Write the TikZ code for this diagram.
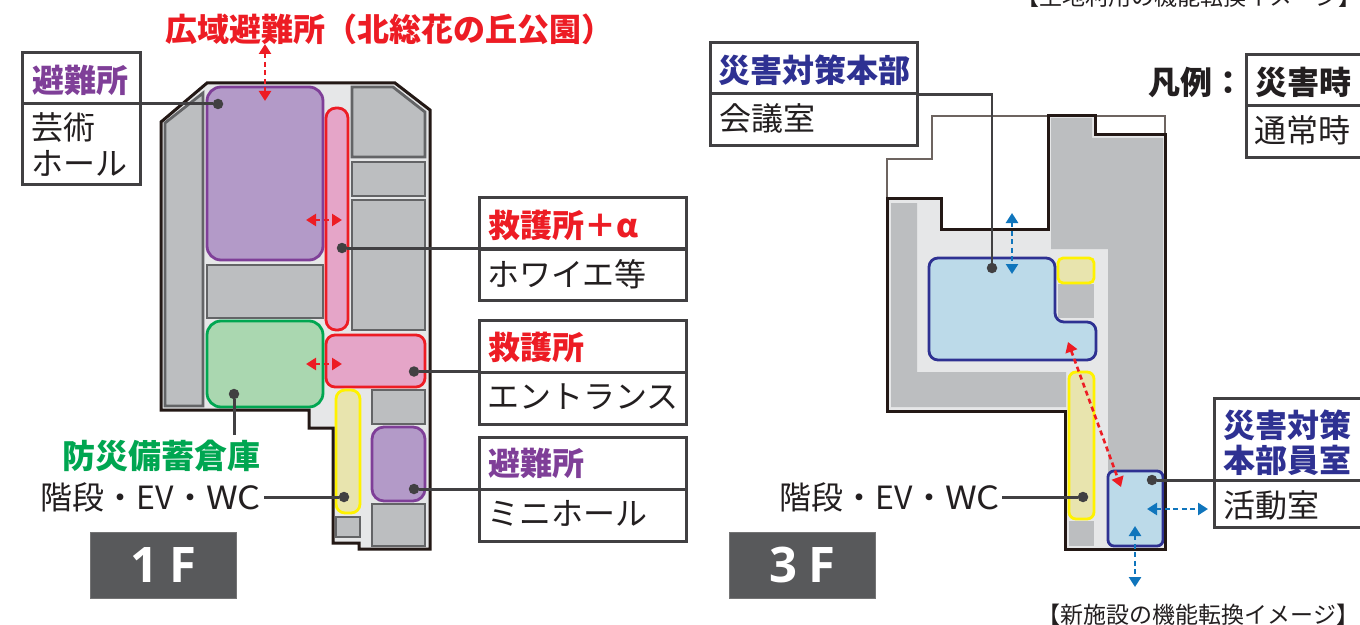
\documentclass[tikz,border=0pt]{standalone}
\usepackage{fontspec}
\setmainfont{Noto Sans CJK JP}
\newfontfamily\blockfont{Open Sans}
\usetikzlibrary{arrows.meta}
\definecolor{ink}{HTML}{231F20}
\definecolor{wall}{HTML}{231815}
\definecolor{frame}{HTML}{414042}
\definecolor{floorc}{HTML}{E6E7E8}
\definecolor{roomg}{HTML}{BCBEC0}
\definecolor{roome}{HTML}{636466}
\definecolor{purpf}{HTML}{B39AC8}
\definecolor{purpl}{HTML}{7F3F98}
\definecolor{pinkf}{HTML}{E5A5C8}
\definecolor{redl}{HTML}{ED1C24}
\definecolor{grnf}{HTML}{AAD7B0}
\definecolor{grnl}{HTML}{00A651}
\definecolor{yelf}{HTML}{E8E4AE}
\definecolor{yell}{HTML}{FFF200}
\definecolor{bluef}{HTML}{BCDAE9}
\definecolor{navy}{HTML}{2E3192}
\definecolor{arrowb}{HTML}{0F75BC}
\definecolor{blockc}{HTML}{58595B}
\definecolor{oldl}{HTML}{6D6460}
\newcommand{\fs}[1]{\fontsize{#1bp}{#1bp}\selectfont}
\tikzset{
  x=1bp,y=-1bp,
  wallline/.style={draw=wall,line width=3bp,miter limit=10},
  oldline/.style={draw=oldl,line width=2.4bp},
  graybox/.style={fill=roomg,draw=roome,line width=2.8bp},
  grayplain/.style={fill=roomg},
  purproom/.style={fill=purpf,draw=purpl,line width=2.8bp},
  pinkroom/.style={fill=pinkf,draw=redl,line width=2.8bp},
  greenroom/.style={fill=grnf,draw=grnl,line width=2.8bp},
  yelroom/.style={fill=yelf,draw=yell,line width=2.8bp},
  blueroom/.style={fill=bluef,draw=navy,line width=2.8bp},
  framebox/.style={draw=frame,line width=3bp,fill=white},
  lead/.style={draw=frame,line width=3bp},
  dot/.style={circle,fill=frame,inner sep=0pt,minimum size=10.5bp},
  txt/.style={anchor=west,inner sep=0pt,text=ink,font=\fs{32}},
  hd/.style={anchor=west,inner sep=0pt,font=\fs{32}\bfseries},
  rarrow/.style={draw=redl,line width=2.6bp,dash pattern=on 5bp off 3.5bp,{Triangle[length=10bp,width=12bp]}-{Triangle[length=10bp,width=12bp]}},
  barrow/.style={draw=arrowb,line width=2.6bp,dash pattern=on 5bp off 3.5bp,{Triangle[length=10bp,width=12bp]}-{Triangle[length=10bp,width=12bp]}},
  floorblock/.style={fill=blockc,draw=gray!70!blockc,line width=.8bp,minimum width=146bp,minimum height=66bp,inner sep=0pt,text=white,font=\blockfont\fs{49}\bfseries},
  caption/.style={inner sep=0pt,text=ink,font=\fs{23}},
}
\newcommand{\evwc}{階段・EV・\scalebox{1.13}[1]{WC}}
\begin{document}
\begin{tikzpicture}
\clip (0,0) rectangle (1360,625);
\fill[white] (0,0) rectangle (1360,625);
% ---------- 1F plan
\path[fill=floorc] (161,122) -- (207,83) -- (395,83) -- (430,110) -- (430,549) -- (359,549) -- (359,543) -- (333,543) -- (333,428) -- (309,428) -- (309,410) -- (161,410) -- cycle;
\path[graybox] (165,123) -- (203,93) -- (203,406) -- (165,406) -- cycle;
\path[graybox] (207,265) rectangle (323,318);
\path[graybox] (352,87) -- (393,87) -- (425,112) -- (425,157) -- (352,157) -- cycle;
\path[graybox] (352,162) rectangle (425,196);
\path[graybox] (352,200) rectangle (425,330);
\path[graybox] (372,390) rectangle (425,424);
\path[graybox] (372,504) rectangle (425,546);
\path[graybox] (336,517) rectangle (360,537);
\path[purproom,rounded corners=14bp] (207,87) rectangle (323,260);
\path[pinkroom,rounded corners=10bp] (326,108) rectangle (348,330);
\path[pinkroom,rounded corners=9bp] (326,335) rectangle (425,387);
\path[greenroom,rounded corners=14bp] (207,321) rectangle (323,407);
\path[yelroom,rounded corners=9bp] (336,390) rectangle (360,513);
\path[purproom,rounded corners=12bp] (372,427) rectangle (425,501);
\path[wallline] (161,122) -- (207,83) -- (395,83) -- (430,110) -- (430,549) -- (359,549) -- (359,543) -- (333,543) -- (333,428) -- (309,428) -- (309,410) -- (161,410) -- cycle;
% 1F boxes
\path[framebox] (22,53) rectangle (140,185);
\path[framebox] (479,197) rectangle (686,300);
\path[framebox] (479,320) rectangle (686,424);
\path[framebox] (479,437) rectangle (686,541);
\path[lead] (479,372) -- (686,372);
\path[lead] (479,489) -- (686,489);
\path[lead] (479,249) -- (686,249);
% 1F dots and leaders
\node[dot] (dHall) at (218,104) {};
\coordinate (eHall) at (22,104);
\node[dot] (dFoyer) at (342,248) {};
\coordinate (eFoyer) at (686,248);
\node[dot] (dEnt) at (414,371.5) {};
\coordinate (eEnt) at (479,371.5);
\node[dot] (dMini) at (414,489) {};
\coordinate (eMini) at (479,489);
\node[dot] (dStore) at (234,394) {};
\coordinate (eStore) at (234,435);
\node[dot] (dEv1) at (344,497) {};
\coordinate (eEv1) at (264,497);
\draw[lead] (eHall) -- (dHall);
\draw[lead] (eFoyer) -- (dFoyer);
\draw[lead] (eEnt) -- (dEnt);
\draw[lead] (eMini) -- (dMini);
\draw[lead] (eStore) -- (dStore);
\draw[lead] (eEv1) -- (dEv1);
% 1F arrows
\coordinate (a1) at (265,44); \coordinate (a2) at (265,101);
\coordinate (a3) at (306,220); \coordinate (a4) at (342,220);
\coordinate (a5) at (306,364); \coordinate (a6) at (342,364);
\draw[rarrow] (a1) -- (a2);
\draw[rarrow] (a3) -- (a4);
\draw[rarrow] (a5) -- (a6);
% 1F text
\node[hd,text=redl] (tTitle) at (165,29) {広域避難所（北総花の丘公園）};
\node[hd,text=purpl] (tShel1) at (32,80) {避難所};
\node[txt] (tHall1) at (31,128) {芸術};
\node[txt] (tHall2) at (31,163) {ホール};
\node[hd,text=redl] (tAid1) at (488,225) {救護所＋α};
\node[txt] (tFoyer) at (487,274) {ホワイエ等};
\node[hd,text=redl] (tAid2) at (488,347) {救護所};
\node[txt] (tEnt) at (487,397) {エントランス};
\node[hd,text=purpl] (tShel2) at (488,463) {避難所};
\node[txt] (tMini) at (487,513) {ミニホール};
\node[hd,text=grnl,anchor=east,font=\fs{33}\bfseries] (tStore) at (261,456) {防災備蓄倉庫};
\node[txt,anchor=east] (tEv1) at (261,497) {\evwc};
\node[floorblock] (b1) at (163.5,565) {1\hspace{11bp}F};
% ---------- 3F plan
\path[oldline] (887,198) -- (887,159) -- (932,159) -- (932,116) -- (1165,116) -- (1165,135);
\path[fill=floorc] (887,198) -- (941,198) -- (941,229) -- (1048,229) -- (1048,116) -- (1095,116) -- (1095,135) -- (1165,135) -- (1165,549) -- (1065,549) -- (1065,411) -- (887,411) -- cycle;
\path[grayplain] (891,203) -- (917,203) -- (917,372) -- (1066,372) -- (1066,407) -- (891,407) -- cycle;
\path[grayplain] (1051,118) -- (1092,118) -- (1092,138) -- (1163,138) -- (1163,472) -- (1108,472) -- (1108,249) -- (1051,249) -- cycle;
\path[grayplain] (1058,284) rectangle (1094,318);
\path[grayplain] (1069,521) rectangle (1094,546);
\path[yelroom,rounded corners=5bp] (1058,258) rectangle (1094,283);
\path[yelroom,rounded corners=7bp] (1069,372) rectangle (1094,519);
\path[blueroom,rounded corners=9bp] (929,258) -- (1055,258) -- (1055,322) -- (1096,322) -- (1096,360) -- (929,360) -- cycle;
\path[blueroom,rounded corners=6bp] (1108,471) rectangle (1163,546);
\path[wallline] (887,198) -- (941,198) -- (941,229) -- (1048,229) -- (1048,116) -- (1095,116) -- (1095,135) -- (1165,135) -- (1165,549) -- (1065,549) -- (1065,411) -- (887,411) -- cycle;
% 3F boxes
\path[framebox] (710,43) rectangle (917,146);
\path[lead] (710,94) -- (917,94);
\path[framebox] (1246,55) rectangle (1370,158);
\path[lead] (1246,106) -- (1370,106);
\path[framebox] (1214,398) rectangle (1370,527);
% 3F dots and leaders
\node[dot] (dMeet) at (992,268) {};
\coordinate (eMeet) at (917,94.5);
\coordinate (cMeet) at (992,94.5);
\node[dot] (dEv3) at (1083,497) {};
\coordinate (eEv3) at (1002,497);
\node[dot] (dStaff) at (1152,480) {};
\coordinate (eStaff) at (1365,480);
\draw[lead,line width=2.4bp] (eMeet) -- (cMeet) -- (dMeet);
\draw[lead] (eEv3) -- (dEv3);
\draw[lead] (dStaff) -- (eStaff);
% 3F arrows
\coordinate (b1a) at (1012,213); \coordinate (b1b) at (1012,274);
\coordinate (b2a) at (1147,509); \coordinate (b2b) at (1208,509);
\coordinate (b3a) at (1135,526); \coordinate (b3b) at (1135,587);
\coordinate (r1a) at (1068,342); \coordinate (r1b) at (1121,487);
\draw[barrow] (b1a) -- (b1b);
\draw[barrow] (b2a) -- (b2b);
\draw[barrow] (b3a) -- (b3b);
\draw[rarrow] (r1a) -- (r1b);
% 3F text
\node[hd,text=navy] (tHq) at (718,70) {災害対策本部};
\node[txt] (tMeet) at (719,118) {会議室};
\node[hd,text=ink] (tLegend) at (1148,82) {凡例：};
\node[hd,text=ink] (tDis) at (1255,82) {災害時};
\node[txt] (tNorm) at (1254,130) {通常時};
\node[txt,anchor=east] (tEv3) at (1000,497) {\evwc};
\node[hd,text=navy] (tStaff1) at (1223,425) {災害対策};
\node[hd,text=navy] (tStaff2) at (1223,460) {本部員室};
\node[txt] (tAct) at (1223,505) {活動室};
\node[floorblock] (b3) at (802,565) {3\hspace{11bp}F};
\node[caption] (cNew) at (1198.5,615) {【新施設の機能転換イメージ】};
\node[caption] (cLand) at (1189,-3) {【土地利用の機能転換イメージ】};
\end{tikzpicture}
\end{document}
